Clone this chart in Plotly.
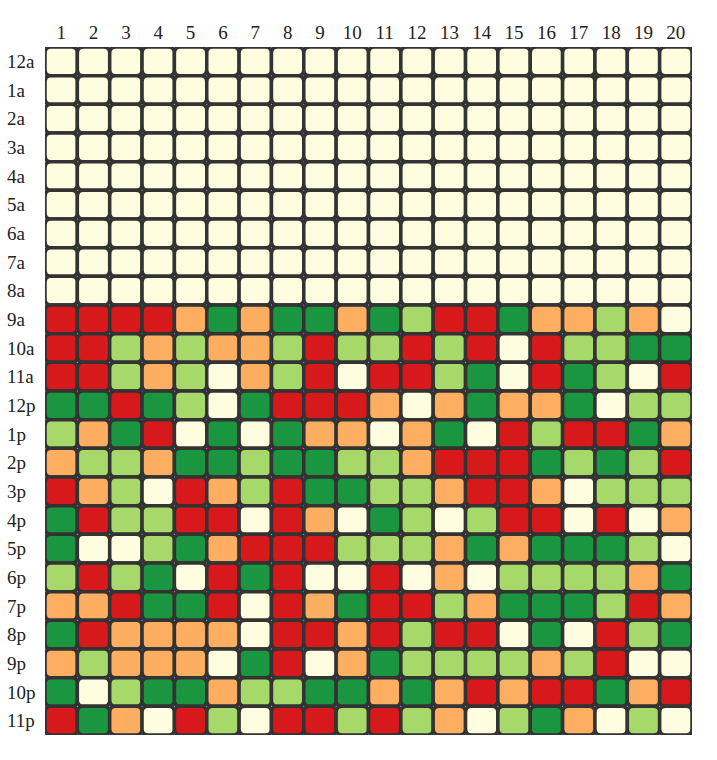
import plotly.graph_objects as go

hours = ["12a", "1a", "2a", "3a", "4a", "5a", "6a", "7a", "8a", "9a", "10a", "11a",
         "12p", "1p", "2p", "3p", "4p", "5p", "6p", "7p", "8p", "9p", "10p", "11p"]
columns = list(range(1, 21))

# Y = cream, G = dark green, L = light green, O = orange, R = red
row_12a = "Y Y Y Y Y Y Y Y Y Y Y Y Y Y Y Y Y Y Y Y"
row_1a = "Y Y Y Y Y Y Y Y Y Y Y Y Y Y Y Y Y Y Y Y"
row_2a = "Y Y Y Y Y Y Y Y Y Y Y Y Y Y Y Y Y Y Y Y"
row_3a = "Y Y Y Y Y Y Y Y Y Y Y Y Y Y Y Y Y Y Y Y"
row_4a = "Y Y Y Y Y Y Y Y Y Y Y Y Y Y Y Y Y Y Y Y"
row_5a = "Y Y Y Y Y Y Y Y Y Y Y Y Y Y Y Y Y Y Y Y"
row_6a = "Y Y Y Y Y Y Y Y Y Y Y Y Y Y Y Y Y Y Y Y"
row_7a = "Y Y Y Y Y Y Y Y Y Y Y Y Y Y Y Y Y Y Y Y"
row_8a = "Y Y Y Y Y Y Y Y Y Y Y Y Y Y Y Y Y Y Y Y"
row_9a = "R R R R O G O G G O G L R R G O O L O Y"
row_10a = "R R L O L O O L R L L R L R Y R L L G G"
row_11a = "R R L O L Y O L R Y R R L G Y R G L Y R"
row_12p = "G G R G L Y G R R R O Y O G O O G Y L L"
row_1p = "L O G R Y G Y G O O Y O G Y R L R R G O"
row_2p = "O L L O G G L G G L L O R R R G L G L R"
row_3p = "R O L Y R O L R G G L L O R R O Y L L L"
row_4p = "G R L L R R Y R O Y G L Y L R R Y R Y O"
row_5p = "G Y Y L G O R R R L L L O G O G G G L Y"
row_6p = "L R L G Y R G R Y Y R Y O Y L L L L O G"
row_7p = "O O R G G R Y R O G R R L O G G G L R O"
row_8p = "G R O O O O Y R R O R L R R Y G Y R L G"
row_9p = "O L O O O Y G R Y O G L L L L O L R Y Y"
row_10p = "G Y L G G O L L G G O G O R O R R G O R"
row_11p = "R G O Y R L Y R R L R L O Y L G O Y L Y"

rows = [row_12a, row_1a, row_2a, row_3a, row_4a, row_5a, row_6a, row_7a, row_8a,
        row_9a, row_10a, row_11a, row_12p, row_1p, row_2p, row_3p, row_4p, row_5p,
        row_6p, row_7p, row_8p, row_9p, row_10p, row_11p]

palette = {"R": "#d7191c", "O": "#fdae61", "Y": "#fffde0", "L": "#a6d96a", "G": "#1a9641"}

W, H = 717, 760
ml, mr, mt, mb = 45, 25, 47, 25
pw, ph = W - ml - mr, H - mt - mb
cw, ch = pw / len(columns), ph / len(hours)
rad = 6.0
rx, ry = rad / cw, rad / ch

shapes = []
xs, ys, txt = [], [], []
for r, (hr, row) in enumerate(zip(hours, rows)):
    for c, code in zip(columns, row.split()):
        x0, x1, y0, y1 = c - 0.5, c + 0.5, r - 0.5, r + 0.5
        path = (f"M {x0+rx},{y0} L {x1-rx},{y0} Q {x1},{y0} {x1},{y0+ry} "
                f"L {x1},{y1-ry} Q {x1},{y1} {x1-rx},{y1} L {x0+rx},{y1} "
                f"Q {x0},{y1} {x0},{y1-ry} L {x0},{y0+ry} Q {x0},{y0} {x0+rx},{y0} Z")
        shapes.append(dict(type="path", xref="x", yref="y", path=path,
                           fillcolor=palette[code],
                           line=dict(color="#333333", width=3.5), layer="above"))
        xs.append(c); ys.append(r); txt.append(f"{hr}, {c}: {code}")

fig = go.Figure(go.Scatter(x=xs, y=ys, mode="markers", text=txt, hoverinfo="text",
                           marker=dict(size=1, opacity=0), showlegend=False))

font = dict(family="Liberation Serif", size=19, color="#222222")
annotations = [dict(xref="paper", yref="y", x=-(ml - 5) / pw, y=r, text=hr,
                    xanchor="left", yanchor="middle", showarrow=False, font=font)
               for r, hr in enumerate(hours)]

fig.update_layout(
    width=W, height=H, margin=dict(l=ml, r=mr, t=mt, b=mb),
    paper_bgcolor="white", plot_bgcolor="white",
    shapes=shapes, annotations=annotations,
    xaxis=dict(range=[0.5, 20.5], side="top", tickvals=columns,
               ticktext=[str(c) for c in columns], showgrid=False, zeroline=False,
               showline=False, ticks="", automargin=False, ticklabelstandoff=3,
               tickfont=font),
    yaxis=dict(range=[23.5, -0.5], showticklabels=False, showgrid=False,
               zeroline=False, showline=False, ticks="", automargin=False),
)

fig.write_html("out.html", config={"displayModeBar": False},
               post_script="document.body.style.margin='0';")
